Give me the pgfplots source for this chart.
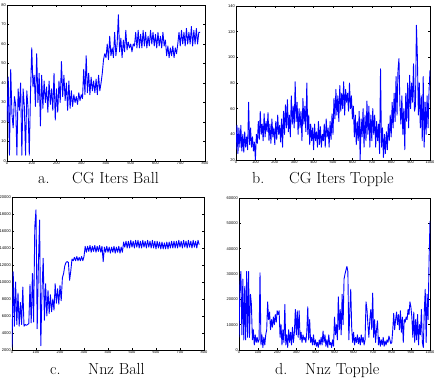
\documentclass[border=0pt]{standalone}
\usepackage{fontspec}
\usepackage{pgfplots}
\pgfplotsset{compat=1.18}
\newfontfamily\tickfont{Liberation Sans}
\pgfplotsset{mat/.style={scale only axis, tick align=inside, major tick length=2pt,
  ticklabel style={font=\tickfont\fontsize{4}{4.5}\selectfont, inner sep=1pt},
  /pgf/number format/assume math mode=true, /pgf/number format/1000 sep={},
  scaled ticks=false, axis line style={line width=0.5pt},
  every tick/.style={black, line width=0.35pt}, anchor=south west},
  ser/.style={color={rgb,255:red,0;green,0;blue,255}, line width=0.9pt, no marks, line join=round}}
\begin{document}
\begin{tikzpicture}
% ---------- a ----------
\begin{axis}[mat, at={(7pt,217pt)}, width=198pt, height=156pt,
  xmin=0, xmax=800, ymin=0, ymax=80, xtick={0,100,...,800}, ytick={0,10,...,80}]
\addplot[ser] coordinates {
(0,20)(5,43)(10,3)(15,47)(20,24)(25,17)(30,33)(35,29)(40,3)(45,37)(50,26)(55,40)(60,3)(65,37)(70,28)(75,3)(80,36)(85,27)(90,3)(95,35)
(100,58)(105,38)(110,44)(115,28)(120,55)(125,30)(130,45)(135,18)(140,44)(145,27)(150,41)(155,30)(160,38)(165,25)(170,41)(175,29)(180,37)(185,26)(190,45)(195,21)
(200,37)(205,25)(210,41)(215,30)(220,51)(225,33)(230,44)(235,31)(240,40)(245,26)(250,41)(255,27)(260,36)(265,28)(270,34)(275,30)(280,33)(285,29)(290,35)(295,31)
(300,34)(305,32)(310,47)(315,34)(320,54)(325,35)(330,45)(335,34)(340,43)(345,36)(350,41)(355,35)(360,42)(365,34)(370,44)(375,36)(380,40)(385,45)(390,52)(395,55)
(400,53)(405,60)(410,52)(415,64)(420,54)(425,58)(430,53)(435,66)(440,54)(445,60)(450,75)(455,56)(460,63)(465,53)(470,62)(475,56)(480,67)(485,57)(490,61)(495,58)
(500,60)(505,56)(510,60)(515,59)(520,66)(525,58)(530,67)(535,58)(540,65)(545,58)(550,67)(555,59)(560,66)(565,58)(570,64)(575,59)(580,67)(585,60)(590,66)(595,59)
(600,65)(605,58)(610,66)(615,59)(620,64)(625,58)(630,66)(635,59)(640,62)(645,54)(650,59)(655,53)(660,58)(665,54)(670,59)(675,53)(680,58)(685,55)(690,60)(695,66)
(700,59)(705,67)(710,60)(715,66)(720,59)(725,68)(730,60)(735,66)(740,60)(745,69)(750,59)(755,67)(760,60)(765,68)(770,60)(775,66)(780,66)};
\end{axis}
% ---------- b ----------
\begin{axis}[mat, at={(236pt,218pt)}, width=194pt, height=154pt,
  xmin=0, xmax=1000, ymin=20, ymax=140, xtick={0,100,...,1000}, ytick={20,40,...,140}]
\addplot[ser] coordinates {
(0,28)(5,47)(10,25)(15,45)(20,30)(25,47)(30,27)(35,40)(40,26)(45,42)(50,30)(55,38)(60,28)(65,65)(70,32)(75,45)(80,30)(85,38)(90,27)(95,34)
(100,20)(105,40)(110,33)(115,50)(120,36)(125,58)(130,40)(135,48)(140,35)(145,56)(150,38)(155,50)(160,42)(165,57)(170,35)(175,48)(180,33)(185,52)(190,38)(195,45)
(200,32)(205,50)(210,36)(215,55)(220,40)(225,47)(230,34)(235,52)(240,30)(245,58)(250,40)(255,63)(260,45)(265,67)(270,42)(275,55)(280,38)(285,70)(290,48)(295,62)
(300,45)(305,81)(310,50)(315,65)(320,40)(325,60)(330,45)(335,58)(340,35)(345,68)(350,48)(355,62)(360,42)(365,80)(370,40)(375,55)(380,32)(385,48)(390,35)(395,45)
(400,28)(405,48)(410,35)(415,42)(420,30)(425,50)(430,32)(435,46)(440,30)(445,40)(450,35)(455,48)(460,30)(465,52)(470,38)(475,45)(480,30)(485,50)(490,36)(495,56)
(500,40)(505,68)(510,52)(515,75)(520,55)(525,70)(530,50)(535,78)(540,58)(545,72)(550,60)(555,81)(560,55)(565,75)(570,65)(575,72)(580,58)(585,80)(590,60)(595,70)
(600,52)(605,62)(610,38)(615,55)(620,32)(625,50)(630,35)(635,58)(640,20)(645,52)(650,38)(655,60)(660,30)(665,55)(670,35)(675,66)(680,40)(685,62)(690,30)(695,55)
(700,35)(705,60)(710,40)(715,55)(720,30)(725,50)(730,35)(735,48)(740,25)(745,91)(750,30)(755,45)(760,22)(765,40)(770,25)(775,42)(780,28)(785,48)(790,35)(795,55)
(800,38)(805,65)(810,45)(815,72)(820,50)(825,85)(830,55)(835,90)(840,99)(845,62)(850,48)(855,70)(860,40)(865,60)(870,28)(875,72)(880,50)(885,80)(890,45)(895,86)
(900,60)(905,80)(910,65)(915,95)(920,58)(925,62)(930,125)(935,100)(940,55)(945,80)(950,45)(955,70)(960,35)(965,85)(970,30)(975,65)(980,40)(985,70)(990,45)(995,74)(1000,90)};
\end{axis}
% ---------- c ----------
\begin{axis}[mat, at={(12pt,28pt)}, width=192pt, height=153pt,
  xmin=0, xmax=800, ymin=2000, ymax=20000, xtick={0,100,...,800}, ytick={2000,4000,...,20000}]
\addplot[ser] coordinates {
(0,2300)(5,11200)(10,4800)(15,10000)(20,5000)(25,8700)(30,4800)(35,7600)(40,5000)(45,9400)(50,4800)(55,5000)(60,4900)(65,5000)(70,5100)(75,9700)(80,5200)(85,11000)(90,5300)(95,16500)
(100,18500)(105,4500)(110,12000)(115,17300)(120,2500)(125,9000)(130,12800)(135,5500)(140,9800)(145,6000)(150,9000)(155,6300)(160,8500)(165,6500)(170,8000)(175,6700)(180,9800)(185,7500)(190,9200)(195,7400)
(200,9600)(205,7800)(210,10500)(215,11000)(220,11900)(225,12300)(230,12400)(235,12300)(240,10200)(245,11300)(250,12700)(255,12500)(260,12900)(265,12500)(270,13000)(275,12500)(280,12900)(285,12500)(290,13000)(295,12500)
(300,13000)(305,14200)(310,13500)(315,14200)(320,13600)(325,14300)(330,13500)(335,14200)(340,13600)(345,14300)(350,13500)(355,14200)(360,13600)(365,14300)(370,13500)(375,14200)(380,12400)(385,14100)(390,13500)(395,14200)
(400,13500)(405,14100)(410,13400)(415,14100)(420,13500)(425,14200)(430,13400)(435,14100)(440,13500)(445,14200)(450,13400)(455,14100)(460,13500)(465,14700)(470,14100)(475,14800)(480,14000)(485,14800)(490,14000)(495,14900)
(500,14100)(505,14800)(510,14000)(515,14900)(520,14100)(525,14900)(530,14000)(535,14800)(540,14000)(545,14900)(550,14100)(555,14800)(560,14000)(565,14900)(570,14100)(575,14800)(580,14000)(585,14900)(590,14000)(595,14800)
(600,13900)(605,14800)(610,14000)(615,14700)(620,13900)(625,14700)(630,13900)(635,14600)(640,13900)(645,14700)(650,13900)(655,14700)(660,14000)(665,14800)(670,14000)(675,14800)(680,14000)(685,14800)(690,14000)(695,14900)
(700,14100)(705,14800)(710,14000)(715,14900)(720,14100)(725,14800)(730,14000)(735,14900)(740,14100)(745,14800)(750,14000)(755,14900)(760,14100)(765,14800)(770,14000)(775,14900)(780,14400)};
\end{axis}
% ---------- d ----------
\begin{axis}[mat, at={(239pt,28pt)}, width=191pt, height=152pt,
  xmin=0, xmax=1000, ymin=0, ymax=60000, xtick={0,100,...,1000}, ytick={0,10000,...,60000}]
\addplot[ser] coordinates {
(0,5000)(5,26000)(10,31000)(15,6000)(20,28000)(25,4000)(30,25000)(35,4000)(40,31000)(45,5000)(50,31000)(55,5000)(60,22000)(65,18000)(70,4000)(75,8000)(80,2000)(85,6000)(90,3000)(95,5000)
(100,3000)(105,4000)(110,30500)(115,2000)(120,6000)(125,1000)(130,5000)(135,2000)(140,6000)(145,8000)(150,19000)(155,12000)(160,15000)(165,8000)(170,12000)(175,9000)(180,13000)(185,10000)(190,14000)(195,11000)
(200,15500)(205,14000)(210,15500)(215,5000)(220,10000)(225,2000)(230,8000)(235,3000)(240,18000)(245,2000)(250,6000)(255,1000)(260,8000)(265,3000)(270,7000)(275,2000)(280,9000)(285,3000)(290,7000)(295,16000)
(300,6000)(305,15500)(310,5000)(315,15500)(320,4000)(325,7000)(330,3000)(335,6000)(340,4000)(345,5000)(350,3000)(355,7000)(360,17000)(365,4000)(370,12000)(375,3000)(380,5000)(385,2000)(390,6000)(395,2000)
(400,4000)(405,1500)(410,3000)(415,1000)(420,4000)(425,2000)(430,5000)(435,2000)(440,7500)(445,3000)(450,6000)(455,1500)(460,4000)(465,1000)(470,6000)(475,2000)(480,3000)(485,1000)(490,4000)(495,1500)
(500,13000)(505,6000)(510,10000)(515,4000)(520,21000)(525,8000)(530,16000)(535,6000)(540,22000)(545,10000)(550,28000)(555,30000)(560,31500)(565,33000)(570,31000)(575,4000)(580,15000)(585,24000)(590,9000)(595,3000)
(600,7000)(605,2000)(610,5000)(615,3000)(620,6000)(625,2500)(630,5000)(635,2000)(640,6000)(645,3000)(650,5000)(655,2000)(660,4000)(665,19000)(670,16000)(675,10000)(680,5000)(685,12000)(690,16000)(695,8000)
(700,22500)(705,5000)(710,12000)(715,3000)(720,8000)(725,11500)(730,2000)(735,5000)(740,1500)(745,4000)(750,2000)(755,5000)(760,1500)(765,3500)(770,2000)(775,4000)(780,3000)(785,5500)(790,4000)(795,2500)
(800,3000)(805,8000)(810,14500)(815,8000)(820,12000)(825,15000)(830,10000)(835,14000)(840,8000)(845,15500)(850,7000)(855,13000)(860,3000)(865,12000)(870,11000)(875,13000)(880,12000)(885,16000)(890,14000)(895,19000)
(900,17000)(905,13000)(910,5000)(915,15000)(920,3000)(925,12000)(930,4000)(935,14000)(940,2000)(945,10000)(950,6000)(955,16000)(960,3000)(965,1000)(970,15000)(975,24000)(980,3000)(985,22000)(990,12000)(995,35000)(1000,51000)};
\end{axis}
% ---------- titles ----------
\begin{scope}[every node/.style={inner sep=0pt, anchor=base west, font=\fontsize{16}{19}\selectfont}]
\node at (38pt,194pt) {a.};
\node at (72pt,194pt) {CG Iters Ball};
\node at (252pt,194pt) {b.};
\node at (289pt,194pt) {CG Iters Topple};
\node at (50pt,4pt) {c.};
\node at (88pt,4pt) {Nnz Ball};
\node at (275pt,4pt) {d.};
\node at (305pt,4pt) {Nnz Topple};
\end{scope}
\pgfresetboundingbox
\path[use as bounding box] (0pt,0pt) rectangle (434pt,378pt);
\end{tikzpicture}
\end{document}
